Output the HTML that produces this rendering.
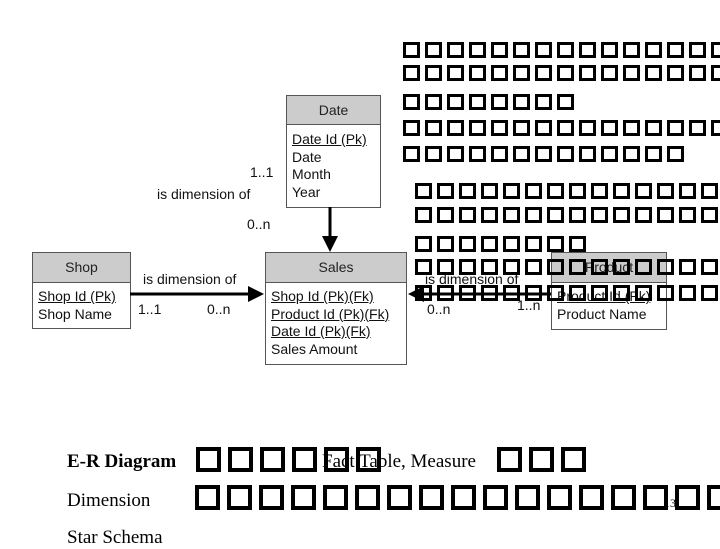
<!DOCTYPE html>
<html><head><meta charset="utf-8"><style>
body{margin:0;width:720px;height:540px;background:#fff;position:relative;overflow:hidden;font-family:"Liberation Sans",Arial,sans-serif;}
.a{position:absolute;white-space:nowrap;}
.tb{position:absolute;border:1px solid #555;background:#fff;}
.hd{background:#cccccc;border-bottom:1px solid #555;text-align:center;font-size:14px;color:#222;}
.bd{font-size:14px;color:#111;line-height:17.5px;padding:4px 5px;}
.u{text-decoration:underline;}
.row{position:absolute;display:flex;gap:5px;}
.row i{display:block;width:11px;height:10px;border:3px solid #000;flex:none;}
.brow{position:absolute;display:flex;gap:7px;}
.brow i{display:block;width:17px;height:17px;border:4px solid #000;flex:none;}
.lb{position:absolute;font-size:14px;color:#111;white-space:nowrap;}
.sr{position:absolute;font-family:"Liberation Serif",serif;font-size:19px;color:#000;white-space:nowrap;}
</style></head><body>
<!-- tables -->
<div class="tb" style="left:286px;top:95px;width:93px;height:111px;"><div class="hd" style="height:28px;line-height:28px;">Date</div><div class="bd" style="padding-top:6px"><span class="u">Date Id (Pk)</span><br>Date<br>Month<br>Year</div></div>
<div class="tb" style="left:32px;top:252px;width:97px;height:75px;"><div class="hd" style="height:29px;line-height:29px;">Shop</div><div class="bd" style="padding-top:5px"><span class="u">Shop Id (Pk)</span><br>Shop Name</div></div>
<div class="tb" style="left:265px;top:252px;width:140px;height:111px;"><div class="hd" style="height:29px;line-height:29px;">Sales</div><div class="bd" style="padding-top:5px"><span class="u">Shop Id (Pk)(Fk)</span><br><span class="u">Product Id (Pk)(Fk)</span><br><span class="u">Date Id (Pk)(Fk)</span><br>Sales Amount</div></div>
<div class="tb" style="left:551px;top:252px;width:114px;height:76px;"><div class="hd" style="height:29px;line-height:29px;">Product</div><div class="bd" style="padding-top:5px"><span class="u">Product Id (Pk)</span><br>Product Name</div></div>
<svg class="a" style="left:0;top:0" width="720" height="540">
<line x1="330" y1="207" x2="330" y2="238" stroke="#000" stroke-width="3"/><polygon points="322,236 338,236 330,252" fill="#000"/>
<line x1="130" y1="294" x2="250" y2="294" stroke="#000" stroke-width="3"/><polygon points="248,286 248,302 264,294" fill="#000"/>
<line x1="551" y1="294" x2="422" y2="294" stroke="#000" stroke-width="3"/><polygon points="424,286 424,302 408,294" fill="#000"/>
</svg>
<div class="lb" style="left:250px;top:164px;">1..1</div>
<div class="lb" style="left:157px;top:186px;">is dimension of</div>
<div class="lb" style="left:247px;top:216px;">0..n</div>
<div class="lb" style="left:143px;top:271px;">is dimension of</div>
<div class="lb" style="left:138px;top:301px;">1..1</div>
<div class="lb" style="left:207px;top:301px;">0..n</div>
<div class="lb" style="left:425px;top:271px;">is dimension of</div>
<div class="lb" style="left:427px;top:301px;">0..n</div>
<div class="lb" style="left:517px;top:297px;">1..n</div>
<!-- tofu text rows -->
<div class="row" style="left:403px;top:42px;"><i></i><i></i><i></i><i></i><i></i><i></i><i></i><i></i><i></i><i></i><i></i><i></i><i></i><i></i><i></i><i></i></div>
<div class="row" style="left:403px;top:65px;"><i></i><i></i><i></i><i></i><i></i><i></i><i></i><i></i><i></i><i></i><i></i><i></i><i></i><i></i><i></i><i></i></div>
<div class="row" style="left:403px;top:94px;"><i></i><i></i><i></i><i></i><i></i><i></i><i></i><i></i></div>
<div class="row" style="left:403px;top:120px;"><i></i><i></i><i></i><i></i><i></i><i></i><i></i><i></i><i></i><i></i><i></i><i></i><i></i><i></i><i></i><i></i></div>
<div class="row" style="left:403px;top:146px;"><i></i><i></i><i></i><i></i><i></i><i></i><i></i><i></i><i></i><i></i><i></i><i></i><i></i></div>
<div class="row" style="left:415px;top:183px;"><i></i><i></i><i></i><i></i><i></i><i></i><i></i><i></i><i></i><i></i><i></i><i></i><i></i><i></i></div>
<div class="row" style="left:415px;top:207px;"><i></i><i></i><i></i><i></i><i></i><i></i><i></i><i></i><i></i><i></i><i></i><i></i><i></i><i></i></div>
<div class="row" style="left:415px;top:236px;"><i></i><i></i><i></i><i></i><i></i><i></i><i></i><i></i></div>
<div class="row" style="left:415px;top:259px;"><i></i><i></i><i></i><i></i><i></i><i></i><i></i><i></i><i></i><i></i><i></i><i></i><i></i><i></i></div>
<div class="row" style="left:415px;top:285px;"><i></i><i></i><i></i><i></i><i></i><i></i><i></i><i></i><i></i><i></i><i></i><i></i><i></i><i></i></div>
<!-- bottom -->
<div class="sr" style="left:67px;top:451px;font-weight:bold;">E-R Diagram</div>
<div class="brow" style="left:196px;top:447px;"><i></i><i></i><i></i><i></i><i></i><i></i></div>
<div class="sr" style="left:322px;top:451px;">Fact Table, Measure</div>
<div class="brow" style="left:497px;top:447px;"><i></i><i></i><i></i></div>
<div class="sr" style="left:67px;top:490px;">Dimension</div>
<div class="brow" style="left:195px;top:485px;"><i></i><i></i><i></i><i></i><i></i><i></i><i></i><i></i><i></i><i></i><i></i><i></i><i></i><i></i><i></i><i></i><i></i></div>
<div class="sr" style="left:664px;top:496px;font-size:12px;">13</div>
<div class="sr" style="left:67px;top:527px;">Star Schema</div>
</body></html>
